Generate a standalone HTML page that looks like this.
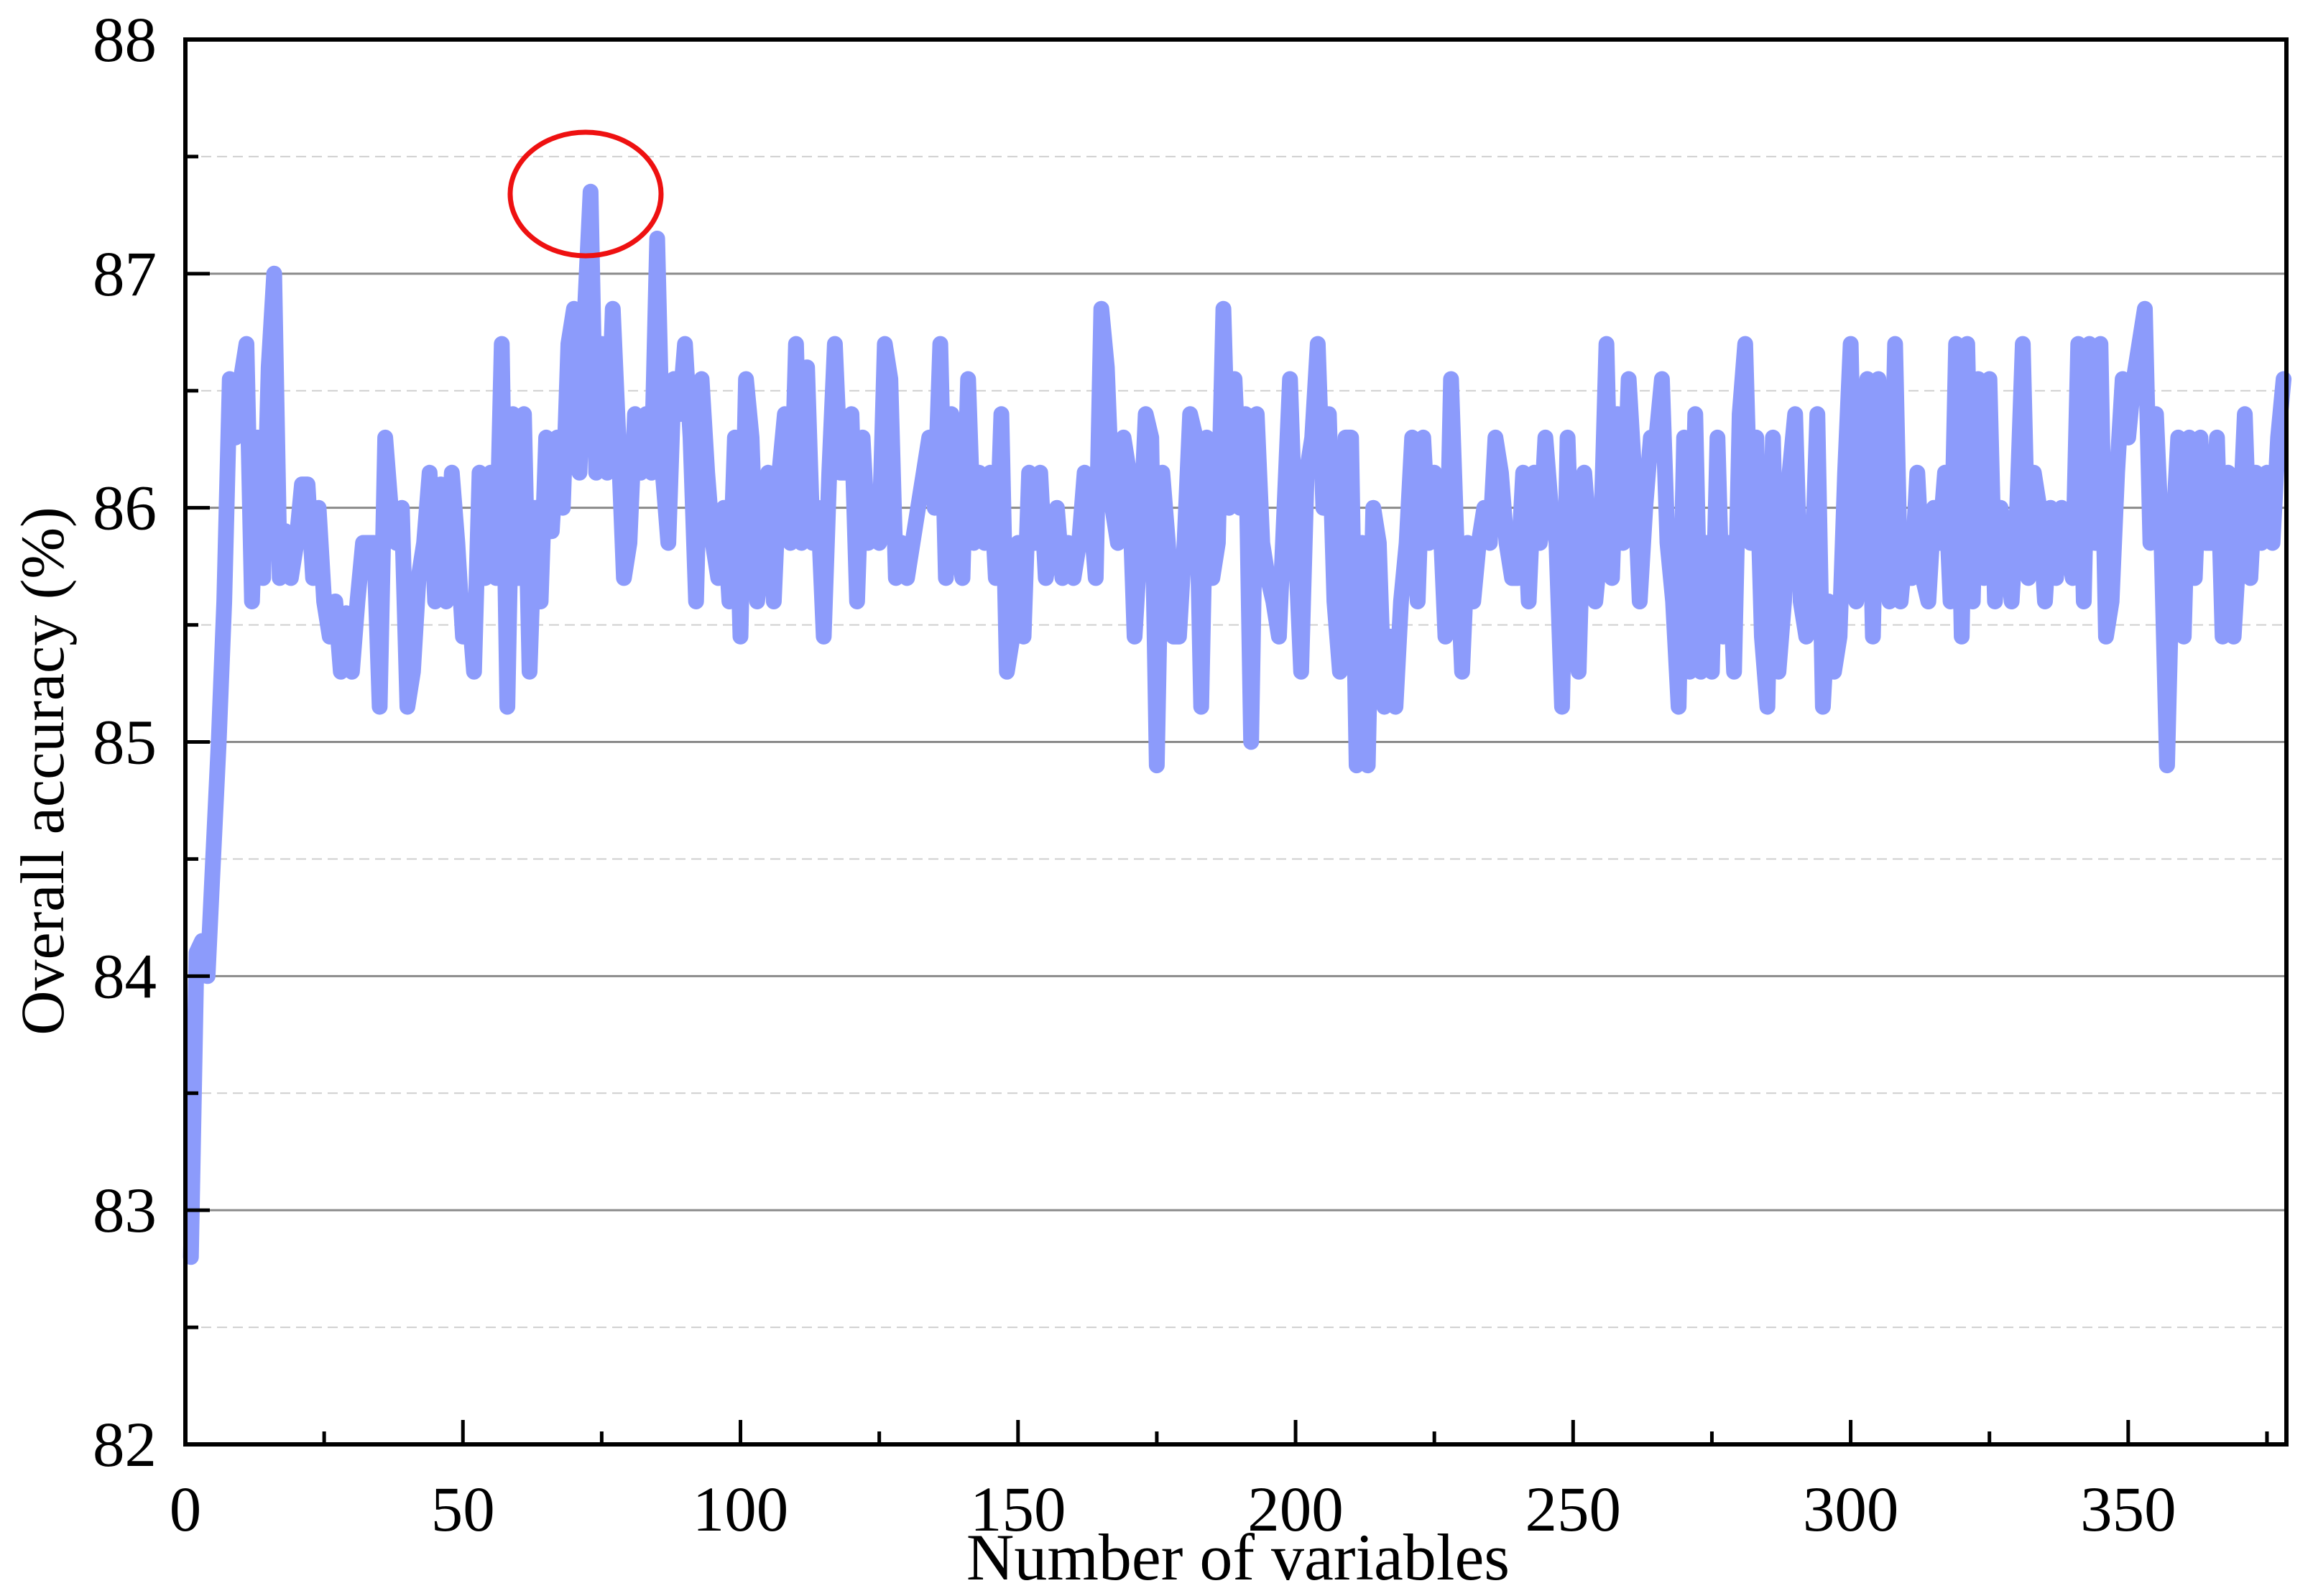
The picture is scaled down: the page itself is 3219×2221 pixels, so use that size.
<!DOCTYPE html>
<html><head><meta charset="utf-8"><style>
html,body{margin:0;padding:0;background:#fff}
svg{display:block}
text{font-family:"Liberation Serif",serif;fill:#000}
</style></head><body>
<svg id="chart" width="3219" height="2221" viewBox="0 0 3219 2221" xmlns="http://www.w3.org/2000/svg">
<g id="grid"></g>
<g id="series"></g>
<g id="axes"></g>
<ellipse cx="815" cy="270" rx="105" ry="86" fill="none" stroke="#ee1111" stroke-width="7"/>
<text transform="translate(88,1073) rotate(-90)" text-anchor="middle" font-size="86">Overall accuracy (%)</text>
<text x="1723" y="2198" text-anchor="middle" font-size="92">Number of variables</text>
</svg>
<script>
const yTicks=[82,83,84,85,86,87,88];
const xTicks=[0,50,100,150,200,250,300,350];
const accuracy=[
82.8,84.1,84.15,84.0,84.5,85.0,85.6,86.55,86.3,86.55,
86.7,85.6,86.3,85.7,86.6,87.0,85.7,85.9,85.7,85.85,
86.1,86.1,85.7,86.0,85.6,85.45,85.6,85.3,85.55,85.3,
85.6,85.85,85.85,85.85,85.15,86.3,86.0,85.85,86.0,85.15,
85.3,85.7,85.85,86.15,85.6,86.1,85.6,86.15,85.85,85.45,
85.6,85.3,86.15,85.7,86.15,85.7,86.7,85.15,86.4,85.7,
86.4,85.3,86.0,85.6,86.3,85.9,86.3,86.0,86.7,86.85,
86.15,86.85,87.35,86.15,86.7,86.15,86.85,86.3,85.7,85.85,
86.4,86.15,86.4,86.15,87.15,86.15,85.85,86.55,86.4,86.7,
86.3,85.6,86.55,86.15,85.85,85.7,86.0,85.6,86.3,85.45,
86.55,86.3,85.6,85.85,86.15,85.6,86.15,86.4,85.85,86.7,
85.85,86.6,85.85,86.0,85.45,86.15,86.7,86.15,86.15,86.4,
85.6,86.3,85.85,86.0,85.85,86.7,86.55,85.7,85.85,85.7,
85.85,86.0,86.15,86.3,86.0,86.7,85.7,86.4,85.85,85.7,
86.55,85.85,86.15,85.85,86.15,85.7,86.4,85.3,85.45,85.85,
85.45,86.15,85.85,86.15,85.7,85.85,86.0,85.7,85.85,85.7,
85.85,86.15,86.0,85.7,86.85,86.6,86.0,85.85,86.3,86.15,
85.45,85.85,86.4,86.3,84.9,86.15,85.85,85.45,85.45,85.85,
86.4,86.3,85.15,86.3,85.7,85.85,86.85,86.0,86.55,86.0,
86.4,85.0,86.4,85.85,85.7,85.6,85.45,86.0,86.55,85.85,
85.3,86.15,86.3,86.7,86.0,86.4,85.6,85.3,86.3,86.3,
84.9,85.85,84.9,86.0,85.85,85.15,85.45,85.15,85.6,85.85,
86.3,85.6,86.3,85.85,86.15,86.0,85.45,86.55,85.85,85.3,
85.85,85.6,85.85,86.0,85.85,86.3,86.15,85.85,85.7,85.7,
86.15,85.6,86.15,85.85,86.3,86.0,85.85,85.15,86.3,85.6,
85.3,86.15,85.85,85.6,85.85,86.7,85.7,86.4,85.85,86.55,
86.15,85.6,86.0,86.3,86.3,86.55,85.85,85.6,85.15,86.3,
85.3,86.4,85.3,85.85,85.3,86.3,85.45,85.85,85.3,86.4,
86.7,85.85,86.3,85.45,85.15,86.3,85.3,85.6,86.15,86.4,
85.6,85.45,85.7,86.4,85.15,85.6,85.3,85.45,86.15,86.7,
85.6,85.85,86.55,85.45,86.55,86.0,85.6,86.7,85.6,85.85,
85.7,86.15,85.7,85.6,86.0,85.85,86.15,85.6,86.7,85.45,
86.7,85.6,86.55,85.7,86.55,85.6,86.0,85.85,85.6,86.0,
86.7,85.7,86.15,86.0,85.6,86.0,85.7,86.0,85.85,85.7,
86.7,85.6,86.7,85.85,86.7,85.45,85.6,86.15,86.55,86.3,
86.55,86.7,86.85,85.85,86.4,85.85,84.9,85.85,86.3,85.45,
86.3,85.7,86.3,85.85,85.85,86.3,85.45,86.15,85.45,85.85,
86.4,85.7,86.15,85.85,86.15,85.85,86.3,86.55
];
const NS="http://www.w3.org/2000/svg";
const L=258,R=3182,T=55,B=2010,XMAX=378.5,YMIN=82,YMAX=88;
const sx=v=>L+(v)/XMAX*(R-L);
const sy=v=>B-(v-YMIN)/(YMAX-YMIN)*(B-T);
function mk(tag,attrs,parent){const e=document.createElementNS(NS,tag);for(const k in attrs)e.setAttribute(k,attrs[k]);parent.appendChild(e);return e;}
const grid=document.getElementById('grid'),axes=document.getElementById('axes'),ser=document.getElementById('series');
for(let i=0;i<yTicks.length;i++){
  const v=yTicks[i];
  if(v>YMIN&&v<YMAX){
    const g=mk('line',{x1:L,x2:R,y1:sy(v),y2:sy(v),stroke:'#8a8a8a','stroke-width':3},grid);
    
    
  }
  if(i<yTicks.length-1){
    const m=v+0.5;
    const g2=mk('line',{x1:L,x2:R,y1:sy(m),y2:sy(m),stroke:'#cfcfcf','stroke-width':2,'stroke-dasharray':'14 8'},grid);
    
    
    const mt=mk('line',{x1:L,x2:L+18,y1:sy(m),y2:sy(m),stroke:'#000','stroke-width':5},axes);
    
    
  }
  const t=mk('line',{x1:L,x2:L+34,y1:sy(v),y2:sy(v),stroke:'#000','stroke-width':5},axes);
  
  
  const lb=mk('text',{x:218,y:sy(v)+30,'text-anchor':'end','font-size':89},axes);
  lb.textContent=v;
  
  
}
for(const v of xTicks){
  const t=mk('line',{x1:sx(v),x2:sx(v),y1:B,y2:B-34,stroke:'#000','stroke-width':5},axes);
  
  
  const m=v+25;
  if(m<XMAX){
    const mt=mk('line',{x1:sx(m),x2:sx(m),y1:B,y2:B-18,stroke:'#000','stroke-width':5},axes);
    
    
  }
  const lb=mk('text',{x:sx(v),y:2130,'text-anchor':'middle','font-size':89},axes);
  lb.textContent=v;
  
  
}
const pts=accuracy.map((v,i)=>sx(i+1).toFixed(1)+','+sy(v).toFixed(1)).join(' ');
const pl=mk('polyline',{points:pts,fill:'none',stroke:'#8c9bfb','stroke-width':22,'stroke-linejoin':'round','stroke-linecap':'round'},ser);


const frame=mk('rect',{x:L,y:T,width:R-L,height:B-T,fill:'none',stroke:'#000','stroke-width':6},axes);


</script>
</body></html>
